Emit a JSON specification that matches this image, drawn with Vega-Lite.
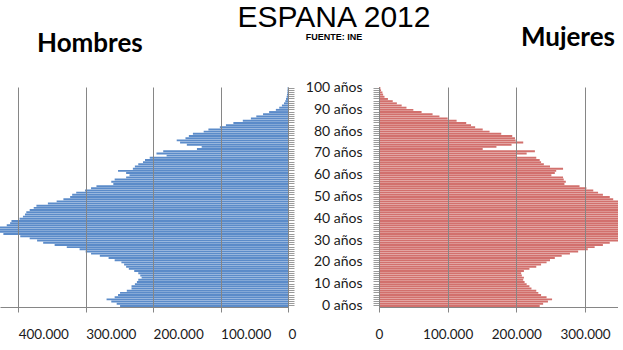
{
  "$schema": "https://vega.github.io/schema/vega-lite/v6.json",
  "background": "white",
  "padding": {"left": 0, "top": 2, "right": 0, "bottom": 0},
  "title": {
    "text": "ESPANA 2012",
    "subtitle": "FUENTE: INE",
    "anchor": "middle",
    "dx": 25,
    "font": "Liberation Sans",
    "fontSize": 30,
    "fontWeight": "normal",
    "color": "#000000",
    "subtitleFont": "Liberation Sans",
    "subtitleFontSize": 9,
    "subtitleFontWeight": "bold",
    "subtitleColor": "#000000",
    "subtitlePadding": 0,
    "offset": -17
  },
  "datasets": {
    "pop": [
      {"edad": 0, "hombres": 249000, "mujeres": 234000},
      {"edad": 1, "hombres": 254000, "mujeres": 239000},
      {"edad": 2, "hombres": 262000, "mujeres": 246000},
      {"edad": 3, "hombres": 269000, "mujeres": 252000},
      {"edad": 4, "hombres": 257000, "mujeres": 244000},
      {"edad": 5, "hombres": 252000, "mujeres": 236000},
      {"edad": 6, "hombres": 249000, "mujeres": 232000},
      {"edad": 7, "hombres": 239000, "mujeres": 229000},
      {"edad": 8, "hombres": 232000, "mujeres": 222000},
      {"edad": 9, "hombres": 232000, "mujeres": 219000},
      {"edad": 10, "hombres": 227000, "mujeres": 215000},
      {"edad": 11, "hombres": 224000, "mujeres": 212000},
      {"edad": 12, "hombres": 222000, "mujeres": 210000},
      {"edad": 13, "hombres": 217000, "mujeres": 211000},
      {"edad": 14, "hombres": 219000, "mujeres": 208000},
      {"edad": 15, "hombres": 222000, "mujeres": 207000},
      {"edad": 16, "hombres": 228000, "mujeres": 211000},
      {"edad": 17, "hombres": 236000, "mujeres": 219000},
      {"edad": 18, "hombres": 240000, "mujeres": 229000},
      {"edad": 19, "hombres": 243000, "mujeres": 236000},
      {"edad": 20, "hombres": 247000, "mujeres": 244000},
      {"edad": 21, "hombres": 257000, "mujeres": 249000},
      {"edad": 22, "hombres": 266000, "mujeres": 256000},
      {"edad": 23, "hombres": 279000, "mujeres": 266000},
      {"edad": 24, "hombres": 292000, "mujeres": 278000},
      {"edad": 25, "hombres": 300000, "mujeres": 290000},
      {"edad": 26, "hombres": 309000, "mujeres": 304000},
      {"edad": 27, "hombres": 328000, "mujeres": 314000},
      {"edad": 28, "hombres": 346000, "mujeres": 326000},
      {"edad": 29, "hombres": 363000, "mujeres": 336000},
      {"edad": 30, "hombres": 372000, "mujeres": 348000},
      {"edad": 31, "hombres": 383000, "mujeres": 360000},
      {"edad": 32, "hombres": 397000, "mujeres": 372000},
      {"edad": 33, "hombres": 422000, "mujeres": 385000},
      {"edad": 34, "hombres": 430000, "mujeres": 392000},
      {"edad": 35, "hombres": 432000, "mujeres": 395000},
      {"edad": 36, "hombres": 427000, "mujeres": 398000},
      {"edad": 37, "hombres": 417000, "mujeres": 395000},
      {"edad": 38, "hombres": 412000, "mujeres": 390000},
      {"edad": 39, "hombres": 410000, "mujeres": 388000},
      {"edad": 40, "hombres": 398000, "mujeres": 385000},
      {"edad": 41, "hombres": 393000, "mujeres": 382000},
      {"edad": 42, "hombres": 390000, "mujeres": 380000},
      {"edad": 43, "hombres": 388000, "mujeres": 378000},
      {"edad": 44, "hombres": 383000, "mujeres": 375000},
      {"edad": 45, "hombres": 377000, "mujeres": 372000},
      {"edad": 46, "hombres": 373000, "mujeres": 366000},
      {"edad": 47, "hombres": 356000, "mujeres": 360000},
      {"edad": 48, "hombres": 343000, "mujeres": 352000},
      {"edad": 49, "hombres": 333000, "mujeres": 341000},
      {"edad": 50, "hombres": 323000, "mujeres": 336000},
      {"edad": 51, "hombres": 320000, "mujeres": 326000},
      {"edad": 52, "hombres": 314000, "mujeres": 319000},
      {"edad": 53, "hombres": 301000, "mujeres": 312000},
      {"edad": 54, "hombres": 292000, "mujeres": 302000},
      {"edad": 55, "hombres": 284000, "mujeres": 292000},
      {"edad": 56, "hombres": 259000, "mujeres": 270000},
      {"edad": 57, "hombres": 262000, "mujeres": 272000},
      {"edad": 58, "hombres": 257000, "mujeres": 269000},
      {"edad": 59, "hombres": 240000, "mujeres": 268000},
      {"edad": 60, "hombres": 235000, "mujeres": 251000},
      {"edad": 61, "hombres": 240000, "mujeres": 256000},
      {"edad": 62, "hombres": 252000, "mujeres": 258000},
      {"edad": 63, "hombres": 230000, "mujeres": 268000},
      {"edad": 64, "hombres": 227000, "mujeres": 249000},
      {"edad": 65, "hombres": 222000, "mujeres": 240000},
      {"edad": 66, "hombres": 215000, "mujeres": 236000},
      {"edad": 67, "hombres": 212000, "mujeres": 234000},
      {"edad": 68, "hombres": 205000, "mujeres": 229000},
      {"edad": 69, "hombres": 180000, "mujeres": 200000},
      {"edad": 70, "hombres": 195000, "mujeres": 215000},
      {"edad": 71, "hombres": 185000, "mujeres": 227000},
      {"edad": 72, "hombres": 135000, "mujeres": 151000},
      {"edad": 73, "hombres": 128000, "mujeres": 171000},
      {"edad": 74, "hombres": 150000, "mujeres": 193000},
      {"edad": 75, "hombres": 160000, "mujeres": 210000},
      {"edad": 76, "hombres": 165000, "mujeres": 199000},
      {"edad": 77, "hombres": 152000, "mujeres": 198000},
      {"edad": 78, "hombres": 147000, "mujeres": 194000},
      {"edad": 79, "hombres": 141000, "mujeres": 178000},
      {"edad": 80, "hombres": 125000, "mujeres": 161000},
      {"edad": 81, "hombres": 118000, "mujeres": 151000},
      {"edad": 82, "hombres": 101000, "mujeres": 140000},
      {"edad": 83, "hombres": 92000, "mujeres": 134000},
      {"edad": 84, "hombres": 81000, "mujeres": 127000},
      {"edad": 85, "hombres": 67000, "mujeres": 113000},
      {"edad": 86, "hombres": 55000, "mujeres": 100000},
      {"edad": 87, "hombres": 47000, "mujeres": 88000},
      {"edad": 88, "hombres": 37000, "mujeres": 78000},
      {"edad": 89, "hombres": 28000, "mujeres": 62000},
      {"edad": 90, "hombres": 18000, "mujeres": 50000},
      {"edad": 91, "hombres": 13000, "mujeres": 40000},
      {"edad": 92, "hombres": 9000, "mujeres": 33000},
      {"edad": 93, "hombres": 6000, "mujeres": 26000},
      {"edad": 94, "hombres": 4000, "mujeres": 20000},
      {"edad": 95, "hombres": 3000, "mujeres": 13000},
      {"edad": 96, "hombres": 2000, "mujeres": 8000},
      {"edad": 97, "hombres": 1500, "mujeres": 6000},
      {"edad": 98, "hombres": 1000, "mujeres": 5000},
      {"edad": 99, "hombres": 800, "mujeres": 3000},
      {"edad": 100, "hombres": 500, "mujeres": 2000}
    ]
  },
  "data": {"name": "pop"},
  "spacing": 91,
  "bounds": "flush",
  "hconcat": [
    {
      "width": 288,
      "height": 220,
      "title": {"text": "Hombres", "anchor": "start", "dx": 37, "font": "Lato", "fontSize": 26, "fontWeight": "bold", "color": "#000000", "offset": 30},
      "mark": {"type": "bar", "color": "#5b8bc9", "clip": true},
      "encoding": {
        "y": {
          "field": "edad", "type": "ordinal", "sort": "descending",
          "scale": {"paddingInner": 0.12, "paddingOuter": 0.05},
          "axis": {"orient": "right", "labels": false, "title": null, "tickSize": 6, "tickColor": "#9a9a9a", "domainColor": "#868686", "grid": false}
        },
        "x": {
          "field": "hombres", "type": "quantitative",
          "scale": {"domain": [0, 427000], "reverse": true, "nice": false},
          "axis": {
            "values": [0, 100000, 200000, 300000, 400000],
            "labelExpr": "replace(format(datum.value, ','), ',', '.')",
            "labelAlign": "left", "labelFont": "Lato", "labelFontSize": 13.5, "labelColor": "#1a1a1a",
            "labelPadding": 15, "tickSize": 5, "tickColor": "#868686", "domainColor": "#868686",
            "grid": true, "gridColor": "#868686", "gridOpacity": 1, "title": null, "zindex": 1
          }
        }
      }
    },
    {
      "width": 239,
      "height": 220,
      "title": {"text": "Mujeres", "anchor": "end", "dx": -3, "font": "Lato", "fontSize": 26, "fontWeight": "bold", "color": "#000000", "offset": 30},
      "mark": {"type": "bar", "color": "#d2706d", "clip": true},
      "encoding": {
        "y": {
          "field": "edad", "type": "ordinal", "sort": "descending",
          "scale": {"paddingInner": 0.12, "paddingOuter": 0.05},
          "axis": {
            "orient": "left", "title": null, "tickSize": 6, "tickColor": "#9a9a9a", "domainColor": "#868686", "grid": false,
            "labelExpr": "datum.value % 10 == 0 ? datum.value + ' años' : ''",
            "labelOverlap": false, "labelFont": "Lato", "labelFontSize": 14, "labelColor": "#1a1a1a", "labelPadding": 11
          }
        },
        "x": {
          "field": "mujeres", "type": "quantitative",
          "scale": {"domain": [0, 348000], "nice": false},
          "axis": {
            "values": [0, 100000, 200000, 300000],
            "labelExpr": "replace(format(datum.value, ','), ',', '.')",
            "labelFont": "Lato", "labelFontSize": 13.5, "labelColor": "#1a1a1a",
            "labelPadding": 15, "tickSize": 5, "tickColor": "#868686", "domainColor": "#868686",
            "grid": true, "gridColor": "#868686", "gridOpacity": 1, "title": null, "zindex": 1
          }
        }
      }
    }
  ],
  "config": {
    "view": {"stroke": null},
    "axis": {"labelFlush": false}
  }
}
